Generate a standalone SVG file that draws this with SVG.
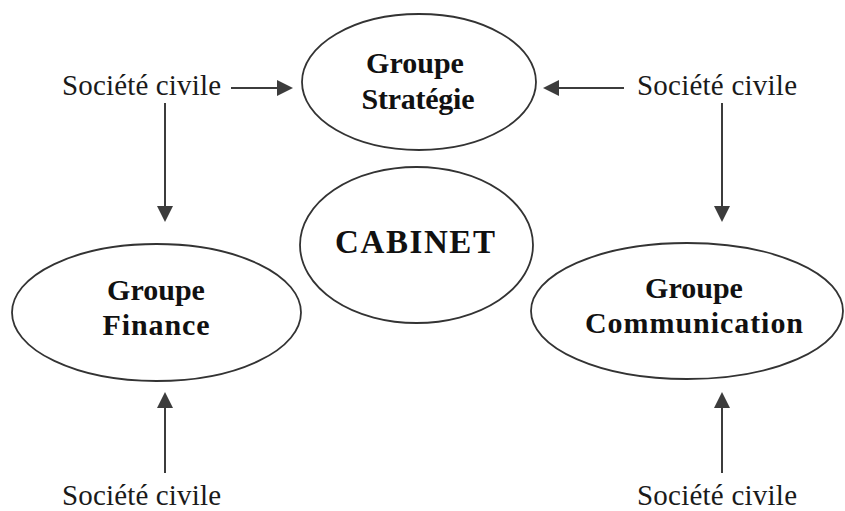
<svg xmlns="http://www.w3.org/2000/svg" width="845" height="511" viewBox="0 0 845 511">
  <style>
    .node { fill: #ffffff; stroke: #333333; stroke-width: 1.8; }
    .title { font-family: "Liberation Serif", "Times New Roman", serif; font-weight: bold; font-size: 30px; fill: #111111; text-anchor: middle; }
    .big { font-size: 33px; }
    .src { font-family: "Liberation Serif", "Times New Roman", serif; font-size: 29px; fill: #1a1a1a; }
    .edge { stroke: #3c3c3c; stroke-width: 2; fill: none; marker-end: url(#arrow); }
  </style>
  <defs>
    <marker id="arrow" viewBox="0 0 16 16" refX="6" refY="8" markerWidth="16" markerHeight="16" markerUnits="userSpaceOnUse" orient="auto">
      <path d="M0,0 L16,8 L0,16 Z" fill="#3c3c3c"/>
    </marker>
  </defs>
  <rect width="845" height="511" fill="#ffffff"/>

  <g id="strategie">
    <ellipse class="node" cx="419" cy="82" rx="117" ry="68"/>
    <text class="title" x="415" y="73">Groupe</text>
    <text class="title" x="418" y="109" textLength="113">Stratégie</text>
  </g>

  <g id="cabinet">
    <ellipse class="node" cx="416.5" cy="245" rx="116.5" ry="78"/>
    <text class="title big" x="415" y="253" textLength="160">CABINET</text>
  </g>

  <g id="finance">
    <ellipse class="node" cx="156.5" cy="312.5" rx="144.5" ry="68.5"/>
    <text class="title" x="156" y="300">Groupe</text>
    <text class="title" x="156" y="335" textLength="107">Finance</text>
  </g>

  <g id="communication">
    <ellipse class="node" cx="687" cy="311" rx="156" ry="68"/>
    <text class="title" x="694" y="298">Groupe</text>
    <text class="title" x="694" y="333" textLength="218">Communication</text>
  </g>

  <g id="societe-civile-nw"><text class="src" x="62" y="95" textLength="159">Société civile</text></g>
  <g id="societe-civile-ne"><text class="src" x="637" y="95" textLength="160">Société civile</text></g>
  <g id="societe-civile-sw"><text class="src" x="62" y="505" textLength="159">Société civile</text></g>
  <g id="societe-civile-se"><text class="src" x="637" y="505" textLength="160">Société civile</text></g>

  <g id="connectors">
    <line class="edge" x1="231" y1="88" x2="283" y2="88"/>
    <line class="edge" x1="624" y1="88" x2="553" y2="88"/>
    <line class="edge" x1="165" y1="103" x2="165" y2="212"/>
    <line class="edge" x1="722" y1="103" x2="722" y2="212"/>
    <line class="edge" x1="165" y1="473" x2="165" y2="402"/>
    <line class="edge" x1="722" y1="473" x2="722" y2="402"/>
  </g>
</svg>
